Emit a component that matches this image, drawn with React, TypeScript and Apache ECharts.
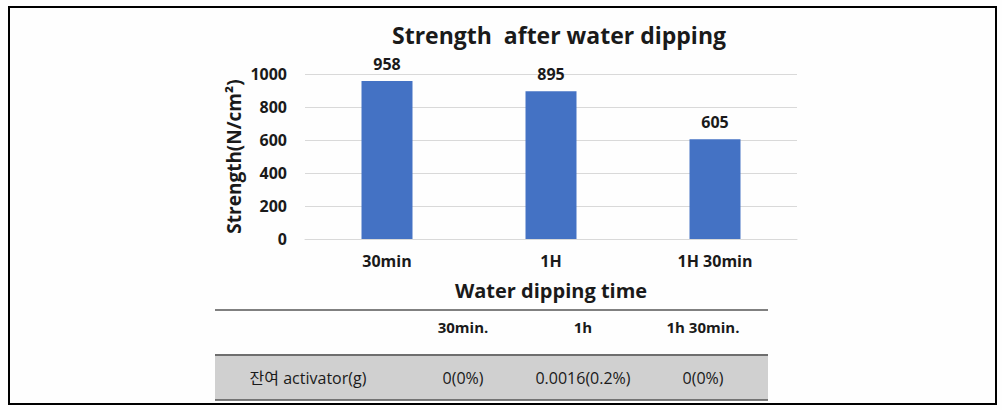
import React, { useEffect, useRef } from "react";
import * as echarts from "echarts";

const categories = ["30min", "1H", "1H 30min"];
const strengthValues = [958, 895, 605];
const yTicks = { min: 0, max: 1000, interval: 200 };
const tableHeaders = ["", "30min.", "1h", "1h 30min."];
const rowLabel = "잔여 activator(g)";
const rowValues = ["0(0%)", "0.0016(0.2%)", "0(0%)"];

const FONT = "'Open Sans', 'Noto Sans CJK KR', sans-serif";

export default function App() {
  const ref = useRef<HTMLDivElement>(null);
  useEffect(() => {
    if (!ref.current) return;
    const chart = echarts.init(ref.current, undefined, { renderer: "svg" });
    const colX = [308, 463, 583, 703];
    const tableTexts: any[] = [];
    tableHeaders.forEach((h, i) => {
      if (!h) return;
      tableTexts.push({
        type: "text",
        x: colX[i],
        y: 327,
        style: {
          text: h,
          fontFamily: FONT,
          fontSize: 15,
          fontWeight: "bold",
          fill: "#1a1a1a",
          textAlign: "center",
          textVerticalAlign: "middle",
        },
      });
    });
    tableTexts.push({
      type: "text",
      x: colX[0],
      y: 378,
      style: {
        text: rowLabel,
        fontFamily: FONT,
        fontSize: 16,
        fill: "#1a1a1a",
        textAlign: "center",
        textVerticalAlign: "middle",
      },
    });
    rowValues.forEach((v, i) => {
      tableTexts.push({
        type: "text",
        x: colX[i + 1],
        y: 378,
        style: {
          text: v,
          fontFamily: FONT,
          fontSize: 16,
          fill: "#1a1a1a",
          textAlign: "center",
          textVerticalAlign: "middle",
        },
      });
    });
    chart.setOption({
      animation: false,
      backgroundColor: "#fefefe",
      grid: { left: 305, right: 205, top: 74, bottom: 171 },
      xAxis: {
        type: "category",
        data: categories,
        axisLine: { show: true, lineStyle: { color: "#d9d9d9", width: 1 } },
        axisTick: { show: false },
        axisLabel: {
          fontFamily: FONT,
          fontSize: 16,
          fontWeight: "bold",
          color: "#1a1a1a",
          margin: 14,
        },
        name: "Water dipping time",
        nameLocation: "middle",
        nameGap: 41,
        nameTextStyle: {
          fontFamily: FONT,
          fontSize: 20,
          fontWeight: "bold",
          color: "#1a1a1a",
        },
      },
      yAxis: {
        type: "value",
        min: yTicks.min,
        max: yTicks.max,
        interval: yTicks.interval,
        axisLine: { show: false },
        axisTick: { show: false },
        splitLine: { lineStyle: { color: "#d9d9d9", width: 1 } },
        axisLabel: {
          fontFamily: FONT,
          fontSize: 16,
          fontWeight: "bold",
          color: "#1a1a1a",
          margin: 18,
          formatter: (v: number) => String(v),
        },
        name: "Strength(N/cm²)",
        nameLocation: "middle",
        nameGap: 62,
        nameRotate: 90,
        nameTextStyle: {
          fontFamily: FONT,
          fontSize: 19,
          fontWeight: "bold",
          color: "#1a1a1a",
        },
      },
      series: [
        {
          type: "bar",
          data: strengthValues,
          barWidth: 51,
          itemStyle: { color: "#4472C4" },
          label: {
            show: true,
            position: "top",
            distance: 9,
            fontFamily: FONT,
            fontSize: 16,
            fontWeight: "bold",
            color: "#1a1a1a",
          },
        },
      ],
      graphic: [
        {
          type: "rect",
          shape: { x: 9, y: 7, width: 987, height: 397 },
          style: { fill: "none", stroke: "#000", lineWidth: 2 },
          silent: true,
        },
        {
          type: "text",
          x: 559,
          y: 35,
          style: {
            text: "Strength  after water dipping",
            fontFamily: FONT,
            fontSize: 23,
            fontWeight: "bold",
            fill: "#1a1a1a",
            textAlign: "center",
            textVerticalAlign: "middle",
          },
        },
        {
          type: "line",
          shape: { x1: 215, y1: 310, x2: 768, y2: 310 },
          style: { stroke: "#808080", lineWidth: 2 },
        },
        {
          type: "rect",
          shape: { x: 215, y: 355, width: 553, height: 45 },
          style: { fill: "#d0d0d0" },
        },
        {
          type: "line",
          shape: { x1: 215, y1: 355, x2: 768, y2: 355 },
          style: { stroke: "#6e6e6e", lineWidth: 2 },
        },
        {
          type: "line",
          shape: { x1: 215, y1: 400, x2: 768, y2: 400 },
          style: { stroke: "#555", lineWidth: 1.5 },
        },
        ...tableTexts,
      ],
    });
    return () => chart.dispose();
  }, []);
  return (
    <div
      ref={ref}
      style={{ position: "fixed", left: 0, top: 0, width: 1002, height: 410 }}
    />
  );
}
